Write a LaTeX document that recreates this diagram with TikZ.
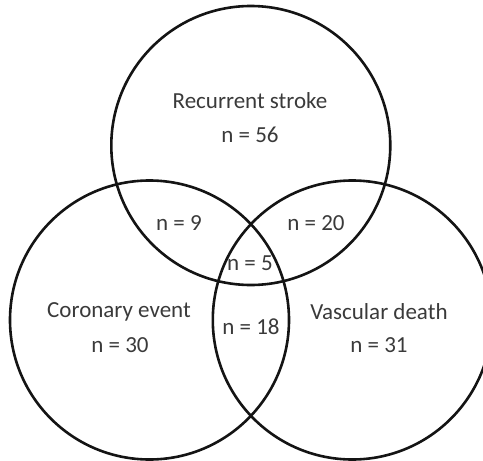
\documentclass[tikz,border=0pt]{standalone}
\usepackage{fontspec}
\setmainfont{Carlito}
\usepackage{xcolor}
\usepackage{tikz}
\usetikzlibrary{positioning}
\definecolor{setline}{HTML}{141414}
\definecolor{settext}{HTML}{3A3A3A}

\begin{document}
\begin{tikzpicture}[
    x=1pt, y=-1pt,
    setring/.style={circle, draw=setline, line width=2.6pt, minimum size=279pt, inner sep=0pt},
    counttext/.style={font=\fontsize{23}{27}\selectfont, text=settext, inner sep=0pt, anchor=center},
]
\useasboundingbox (0,0) rectangle (483,461);

% The three sets
\node[setring] (stroke) at (250.8,145.5) {};
\node[setring] (coronary) at (149.5,320) {};
\node[setring] (vascular) at (352.3,320) {};

% Single sets
\node[counttext] (strokename) at (250,101) {Recurrent stroke};
\node[counttext] (strokecount) at (250,135) {n = 56};
\node[counttext] (coronaryname) at (119,312) {Coronary event};
\node[counttext] (coronarycount) at (120,345) {n = 30};
\node[counttext] (vascularname) at (379,312) {Vascular death};
\node[counttext] (vascularcount) at (379,345) {n = 31};

% Overlaps
\node[counttext] (strokecoronary) at (179,223) {n = 9};
\node[counttext] (strokevascular) at (316,223) {n = 20};
\node[counttext] (allthree) at (250,263) {n = 5};
\node[counttext] (coronaryvascular) at (251,327) {n = 18};

\end{tikzpicture}
\end{document}
